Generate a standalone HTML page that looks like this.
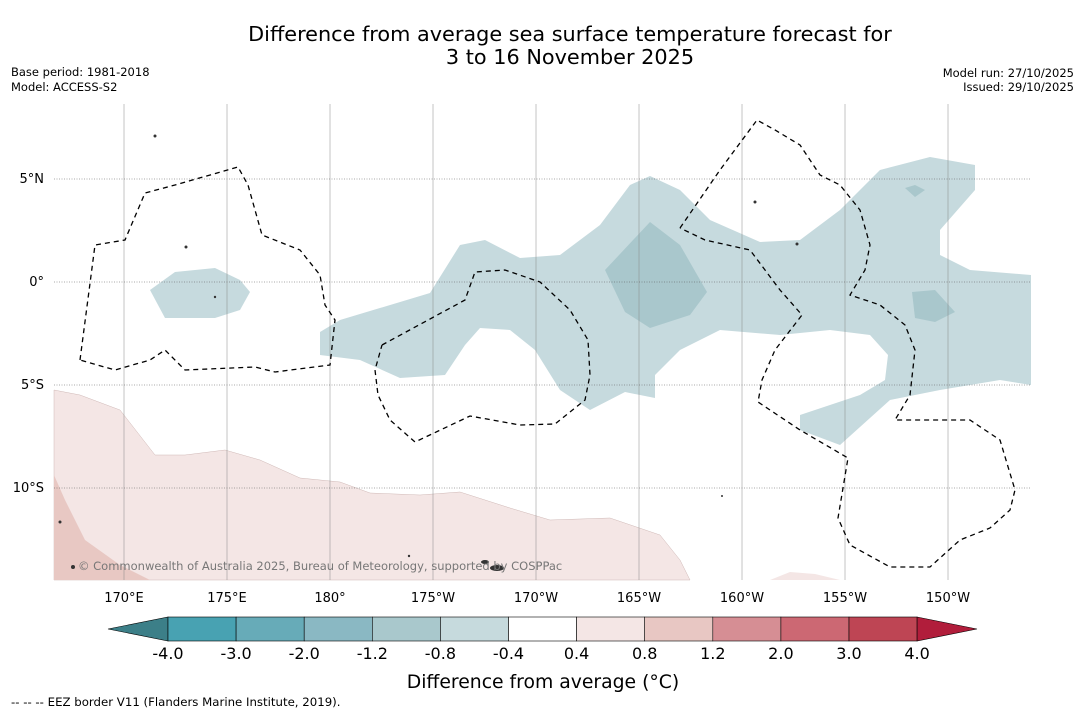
<!DOCTYPE html>
<html><head><meta charset="utf-8"><style>
body{margin:0;background:#fff;}
svg{display:block;font-family:"DejaVu Sans","Liberation Sans",sans-serif;}
</style></head><body>
<svg id="c" width="1085" height="713" viewBox="0 0 1085 713">
<text x="570" y="41" font-size="20.8" text-anchor="middle">Difference from average sea surface temperature forecast for</text>
<text x="570" y="64" font-size="20.8" text-anchor="middle">3 to 16 November 2025</text>
<text x="11" y="76" font-size="11.5">Base period: 1981-2018</text>
<text x="11" y="91" font-size="11.5">Model: ACCESS-S2</text>
<text x="1074" y="77" font-size="11.5" text-anchor="end">Model run: 27/10/2025</text>
<text x="1074" y="91" font-size="11.5" text-anchor="end">Issued: 29/10/2025</text>
<g id="map">
<polygon fill="#f4e6e5" stroke="#cfb8b6" stroke-width="0.5" points="54,390 80,395 120,410 155,455 185,455 225,450 260,460 300,478 340,482 370,493 420,495 460,492 510,508 550,520 610,518 660,535 680,560 690,580 54,580"/>
<polygon fill="#f4e6e5" points="770,580 790,572 815,574 840,580"/>
<polygon fill="#e8c8c3" points="54,475 65,500 85,540 120,565 150,580 54,580"/>
<polygon fill="#c6dade" points="320,332 340,320 430,293 460,245 485,240 520,258 560,255 600,225 630,185 650,176 680,190 710,220 760,242 800,240 840,210 880,170 930,157 975,165 975,190 940,230 940,255 970,270 1031,275 1031,385 1000,380 940,390 890,400 840,445 800,430 800,415 860,395 885,380 888,355 870,335 830,330 780,335 720,330 680,350 655,375 655,398 625,392 590,410 560,390 535,350 510,330 480,328 465,345 445,375 400,378 360,360 320,355"/>
<polygon fill="#c6dade" points="150,290 175,272 215,268 240,280 250,292 240,310 215,318 165,318"/>
<polygon fill="#a9c7cc" points="605,270 650,222 680,245 707,292 690,315 650,328 625,312"/>
<polygon fill="#a9c7cc" points="912,292 935,290 955,312 935,322 915,318"/>
<polygon fill="#a9c7cc" points="905,188 915,185 925,190 915,197"/>
<g id="grid"></g>
<polyline fill="none" stroke="#000" stroke-width="1.3" stroke-dasharray="5,4" points="80,360 95,245 125,240 145,193 175,185 238,167 248,185 262,235 300,250 320,275 325,305 335,320 330,365 275,372 255,367 185,370 165,350 150,360 115,370 80,360"/>
<polyline fill="none" stroke="#000" stroke-width="1.3" stroke-dasharray="5,4" points="382,345 465,300 475,272 505,270 540,282 570,310 588,340 590,375 585,400 570,412 555,424 520,425 470,416 415,442 390,420 378,395 375,370 382,345"/>
<polyline fill="none" stroke="#000" stroke-width="1.3" stroke-dasharray="5,4" points="680,228 720,170 757,120 775,130 800,145 820,175 840,185 860,210 870,245 865,270 850,295 880,305 905,325 915,350 910,395 895,420 935,420 970,420 1000,440 1015,490 1010,510 990,528 960,540 930,567 890,567 850,545 838,518 848,458 800,430 758,402 762,380 775,350 802,315 780,290 750,250 705,240 680,228"/>
<g fill="#333">
<ellipse cx="497" cy="568" rx="7" ry="3"/><ellipse cx="485" cy="562" rx="4" ry="2"/><circle cx="73" cy="567" r="2"/><circle cx="60" cy="522" r="1.5"/><circle cx="755" cy="202" r="1.5"/><circle cx="797" cy="244" r="1.5"/><circle cx="155" cy="136" r="1.5"/><circle cx="186" cy="247" r="1.5"/><circle cx="215" cy="297" r="1.2"/><circle cx="722" cy="496" r="1"/><circle cx="409" cy="556" r="1.2"/>
</g>
<text x="78" y="570" font-size="11.5" fill="#777">© Commonwealth of Australia 2025, Bureau of Meteorology, supported by COSPPac</text>
</g>
<g id="axes"></g>
<g id="cbar"></g>
<text x="543" y="688" font-size="18.8" text-anchor="middle">Difference from average (°C)</text>
<text x="11" y="706" font-size="11.75">--  --  -- EEZ border V11 (Flanders Marine Institute, 2019).</text>
</svg>
<script>
const lonTicks=[170,175,180,185,190,195,200,205,210];
const lonLabels=["170°E","175°E","180°","175°W","170°W","165°W","160°W","155°W","150°W"];
const latTicks=[5,0,-5,-10];
const latLabels=["5°N","0°","5°S","10°S"];
const cbarLevels=[-4.0,-3.0,-2.0,-1.2,-0.8,-0.4,0.4,0.8,1.2,2.0,3.0,4.0];
const cbarColors=["#48a2b2","#67abb8","#8ab8c3","#a9c8cc","#c6dadd","#ffffff","#f4e6e5","#e8c7c3","#d68e94","#cc6873","#be4554"];
const NS="http://www.w3.org/2000/svg";
const xLon=l=>124+(l-170)*20.6;
const yLat=l=>282-l*20.6;
function mk(t,a,p){const e=document.createElementNS(NS,t);for(const k in a)e.setAttribute(k,a[k]);p.appendChild(e);return e;}
const grid=document.getElementById('grid'),axes=document.getElementById('axes');
lonTicks.forEach((l,i)=>{
  const g=mk('line',{x1:xLon(l),x2:xLon(l),y1:104,y2:580,stroke:'#888','stroke-width':0.5},grid);
  
  
  const t=mk('text',{x:xLon(l),y:602,'font-size':13,'text-anchor':'middle'},axes);
  t.textContent=lonLabels[i];
  
  
});
latTicks.forEach((l,i)=>{
  const g=mk('line',{x1:54,x2:1031,y1:yLat(l),y2:yLat(l),stroke:'#555','stroke-width':0.5,'stroke-dasharray':'1,1.5'},grid);
  
  
  const t=mk('text',{x:44,y:yLat(l)+4,'font-size':13,'text-anchor':'end'},axes);
  t.textContent=latLabels[i];
  
  
});
const cb=document.getElementById('cbar');
const x0=168,w=68.1,y0=617,h=24;
const xi=i=>x0+i*w;
const lt=mk('polygon',{points:`108,${y0+h/2} ${x0},${y0} ${x0},${y0+h}`,fill:'#3c7f88',stroke:'#000','stroke-width':0.6},cb);


cbarColors.forEach((c,i)=>{
  const r=mk('rect',{x:xi(i),y:y0,width:w,height:h,fill:c,stroke:'#000','stroke-width':0.6},cb);
  
  
});
const xe=xi(cbarColors.length);
const rt=mk('polygon',{points:`${xe},${y0} 977,${y0+h/2} ${xe},${y0+h}`,fill:'#b11d3b',stroke:'#000','stroke-width':0.6},cb);


cbarLevels.forEach((v,i)=>{
  const t=mk('text',{x:xi(i),y:659,'font-size':16,'text-anchor':'middle'},cb);
  t.textContent=v.toFixed(1);
  
  
});
</script>
</body></html>
